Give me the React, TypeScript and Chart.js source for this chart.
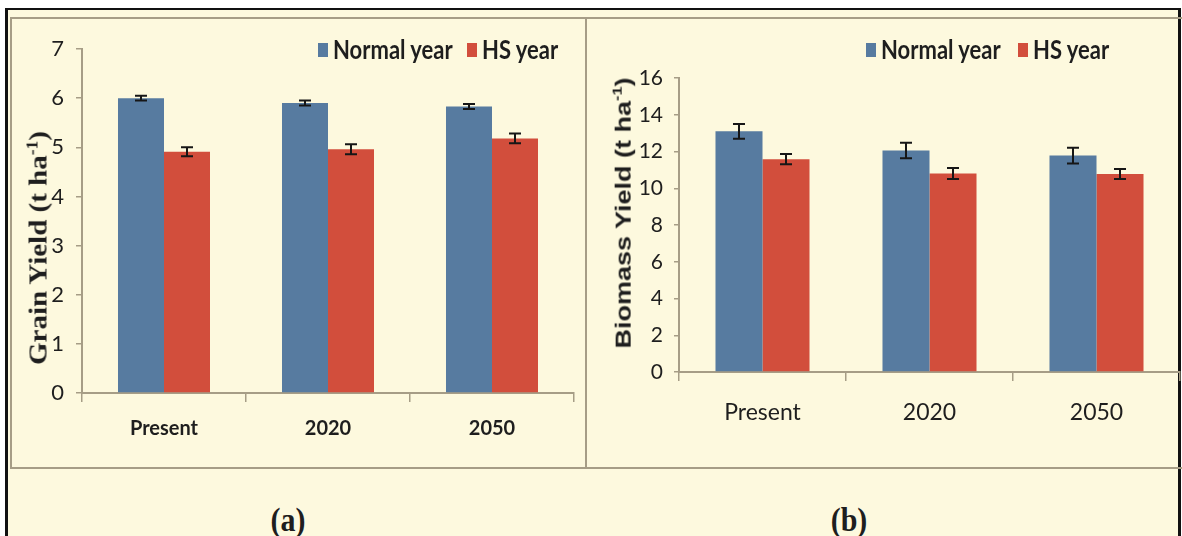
import React, { useEffect, useRef } from 'react';
import { Chart, registerables } from 'chart.js';

Chart.register(...registerables);

// ---------- data ----------
const categories = ['Present', '2020', '2050'];
const seriesNames = ['Normal year', 'HS year'];

const grainNormal = [6.0, 5.9, 5.83];
const grainNormalErr = [0.05, 0.05, 0.05];
const grainHS = [4.91, 4.96, 5.18];
const grainHSErr = [0.09, 0.1, 0.1];

const biomassNormal = [13.1, 12.05, 11.78];
const biomassNormalErr = [0.4, 0.42, 0.43];
const biomassHS = [11.58, 10.8, 10.78];
const biomassHSErr = [0.28, 0.3, 0.27];

const grainAxis = { min: 0, max: 7, step: 1 };
const biomassAxis = { min: 0, max: 16, step: 2 };

// ---------- styles ----------
const BLUE = '#577ba0';
const RED = '#d24e3c';
const CREAM = '#fdf9de';
const TAN = '#a69d86';
const TEXT = '#1e1e1e';
const SANS = 'Lato, "Open Sans", sans-serif';

const errorBarPlugin = {
  id: 'errorBars',
  afterDatasetsDraw(chart: any, _args: any, opts: any) {
    const errs: number[][] = opts.errors || [];
    const ctx = chart.ctx;
    const yScale = chart.scales.y;
    chart.data.datasets.forEach((ds: any, i: number) => {
      const meta = chart.getDatasetMeta(i);
      const e = errs[i];
      if (!e) return;
      meta.data.forEach((bar: any, j: number) => {
        const v = ds.data[j];
        const yTop = yScale.getPixelForValue(v + e[j]);
        const yBot = yScale.getPixelForValue(v - e[j]);
        const x = bar.x;
        const half = 6;
        ctx.save();
        ctx.strokeStyle = '#161616';
        ctx.lineWidth = 2;
        ctx.beginPath();
        ctx.moveTo(x, yTop);
        ctx.lineTo(x, yBot);
        ctx.moveTo(x - half, yTop);
        ctx.lineTo(x + half, yTop);
        ctx.moveTo(x - half, yBot);
        ctx.lineTo(x + half, yBot);
        ctx.stroke();
        ctx.restore();
      });
    });
  },
};

type PanelProps = {
  left: number;
  top: number;
  width: number;
  height: number;
  normal: number[];
  hs: number[];
  normalErr: number[];
  hsErr: number[];
  axis: { min: number; max: number; step: number };
  padTop: number;
  padRight: number;
  yWidth: number;
  xHeight: number;
  yFontSize: number;
  xFont: { size: number; weight: string };
  yTickLen: number;
  yTickPad: number;
  xTickLen: number;
  xTickPad: number;
  catPct: number;
};

function BarPanel(p: PanelProps) {
  const ref = useRef<HTMLCanvasElement | null>(null);
  useEffect(() => {
    if (!ref.current) return;
    const chart = new Chart(ref.current, {
      type: 'bar',
      data: {
        labels: categories,
        datasets: [
          {
            label: seriesNames[0],
            data: p.normal,
            backgroundColor: BLUE,
            borderWidth: 0,
            barPercentage: 1,
            categoryPercentage: p.catPct,
          },
          {
            label: seriesNames[1],
            data: p.hs,
            backgroundColor: RED,
            borderWidth: 0,
            barPercentage: 1,
            categoryPercentage: p.catPct,
          },
        ],
      },
      options: {
        responsive: false,
        animation: false,
        devicePixelRatio: 1,
        layout: { padding: { left: 0, top: p.padTop, right: p.padRight, bottom: 0 } },
        plugins: {
          legend: { display: false },
          tooltip: { enabled: false },
          errorBars: { errors: [p.normalErr, p.hsErr] },
        } as any,
        scales: {
          x: {
            offset: true,
            grid: {
              offset: true,
              display: true,
              drawOnChartArea: false,
              drawTicks: true,
              tickLength: p.xTickLen,
              color: TAN,
              lineWidth: 1.5,
            },
            border: { display: true, color: TAN, width: 2 },
            ticks: {
              color: TEXT,
              padding: p.xTickPad,
              font: { family: SANS, size: p.xFont.size, weight: p.xFont.weight as any },
            },
            afterFit: (s: any) => {
              s.height = p.xHeight;
              s.paddingLeft = 0;
              s.paddingRight = 0;
            },
          },
          y: {
            min: p.axis.min,
            max: p.axis.max,
            grid: {
              display: true,
              drawOnChartArea: false,
              drawTicks: true,
              tickLength: p.yTickLen,
              color: TAN,
              lineWidth: 1.5,
            },
            border: { display: true, color: TAN, width: 2 },
            ticks: {
              stepSize: p.axis.step,
              color: TEXT,
              padding: p.yTickPad,
              font: { family: SANS, size: p.yFontSize },
            },
            afterFit: (s: any) => {
              s.width = p.yWidth;
              s.paddingTop = 0;
              s.paddingBottom = 0;
            },
          },
        },
      } as any,
      plugins: [errorBarPlugin],
    });
    return () => chart.destroy();
  }, []);
  return (
    <canvas
      ref={ref}
      width={p.width}
      height={p.height}
      style={{ position: 'absolute', left: p.left, top: p.top, width: p.width, height: p.height }}
    />
  );
}

function LegendItem({ x, y, color, text }: { x: number; y: number; color: string; text: string }) {
  return (
    <div style={{ position: 'absolute', left: x, top: y - 15, height: 30, display: 'flex', alignItems: 'center' }}>
      <div style={{ width: 10, height: 14, background: color, marginRight: 5 }} />
      <span
        style={{
          fontFamily: SANS,
          fontWeight: 700,
          fontSize: 22,
          color: TEXT,
          whiteSpace: 'nowrap',
          lineHeight: '30px',
          display: 'inline-block',
          transform: 'scaleY(1.18)',
        }}
      >
        {text}
      </span>
    </div>
  );
}

export default function App() {
  return (
    <div
      style={{
        position: 'absolute',
        left: 0,
        top: 0,
        width: 1182,
        height: 536,
        background: '#ffffff',
        overflow: 'hidden',
      }}
    >
      {/* outer black frame */}
      <div
        style={{
          position: 'absolute',
          left: 5,
          top: 8,
          width: 1176,
          height: 560,
          boxSizing: 'border-box',
          borderLeft: '3px solid #111',
          borderTop: '2px solid #111',
          borderRight: '3px solid #111',
          background: CREAM,
        }}
      />
      {/* panel boxes */}
      <div
        style={{
          position: 'absolute',
          left: 10,
          top: 17,
          width: 577,
          height: 452,
          boxSizing: 'border-box',
          border: `2px solid ${TAN}`,
        }}
      />
      <div
        style={{
          position: 'absolute',
          left: 585,
          top: 17,
          width: 600,
          height: 452,
          boxSizing: 'border-box',
          border: `2px solid ${TAN}`,
        }}
      />

      <BarPanel
        left={11}
        top={18}
        width={575}
        height={450}
        normal={grainNormal}
        hs={grainHS}
        normalErr={grainNormalErr}
        hsErr={grainHSErr}
        axis={grainAxis}
        padTop={31}
        padRight={12}
        yWidth={71}
        xHeight={75}
        yFontSize={22}
        xFont={{ size: 20, weight: 'bold' }}
        yTickLen={6}
        yTickPad={12}
        xTickLen={9}
        xTickPad={15}
        catPct={0.561}
      />
      <BarPanel
        left={587}
        top={18}
        width={595}
        height={450}
        normal={biomassNormal}
        hs={biomassHS}
        normalErr={biomassNormalErr}
        hsErr={biomassHSErr}
        axis={biomassAxis}
        padTop={60}
        padRight={2}
        yWidth={92}
        xHeight={96}
        yFontSize={21}
        xFont={{ size: 23, weight: 'normal' }}
        yTickLen={5}
        yTickPad={11}
        xTickLen={9}
        xTickPad={18}
        catPct={0.563}
      />

      {/* y-axis titles */}
      <div
        style={{
          position: 'absolute',
          left: 35,
          top: 248,
          transform: 'translate(-50%, -50%) rotate(-90deg) scaleY(0.9)',
          whiteSpace: 'nowrap',
          fontFamily: '"Liberation Serif", "Times New Roman", serif',
          fontWeight: 700,
          fontSize: 29,
          color: TEXT,
          lineHeight: '30px',
        }}
      >
        Grain Yield (t ha<sup style={{ fontSize: '0.6em' }}>-1</sup>)
      </div>
      <div
        style={{
          position: 'absolute',
          left: 620,
          top: 213,
          transform: 'translate(-50%, -50%) rotate(-90deg) scaleY(0.82)',
          whiteSpace: 'nowrap',
          fontFamily: '"Liberation Sans", Arial, sans-serif',
          fontWeight: 700,
          fontSize: 27,
          color: TEXT,
          lineHeight: '28px',
        }}
      >
        Biomass Yield (t ha<sup style={{ fontSize: '0.6em' }}>-1</sup>)
      </div>

      {/* legends */}
      <LegendItem x={318} y={50} color={BLUE} text={seriesNames[0]} />
      <LegendItem x={467} y={50} color={RED} text={seriesNames[1]} />
      <LegendItem x={866} y={50} color={BLUE} text={seriesNames[0]} />
      <LegendItem x={1018} y={50} color={RED} text={seriesNames[1]} />

      {/* panel labels */}
      <div
        style={{
          position: 'absolute',
          left: 288,
          top: 520,
          transform: 'translate(-50%, -50%) scaleY(1.1)',
          fontFamily: '"Liberation Serif", "Times New Roman", serif',
          fontWeight: 700,
          fontSize: 30,
          color: TEXT,
          whiteSpace: 'nowrap',
        }}
      >
        (a)
      </div>
      <div
        style={{
          position: 'absolute',
          left: 849,
          top: 520,
          transform: 'translate(-50%, -50%) scaleY(1.1)',
          fontFamily: '"Liberation Serif", "Times New Roman", serif',
          fontWeight: 700,
          fontSize: 30,
          color: TEXT,
          whiteSpace: 'nowrap',
        }}
      >
        (b)
      </div>
    </div>
  );
}
